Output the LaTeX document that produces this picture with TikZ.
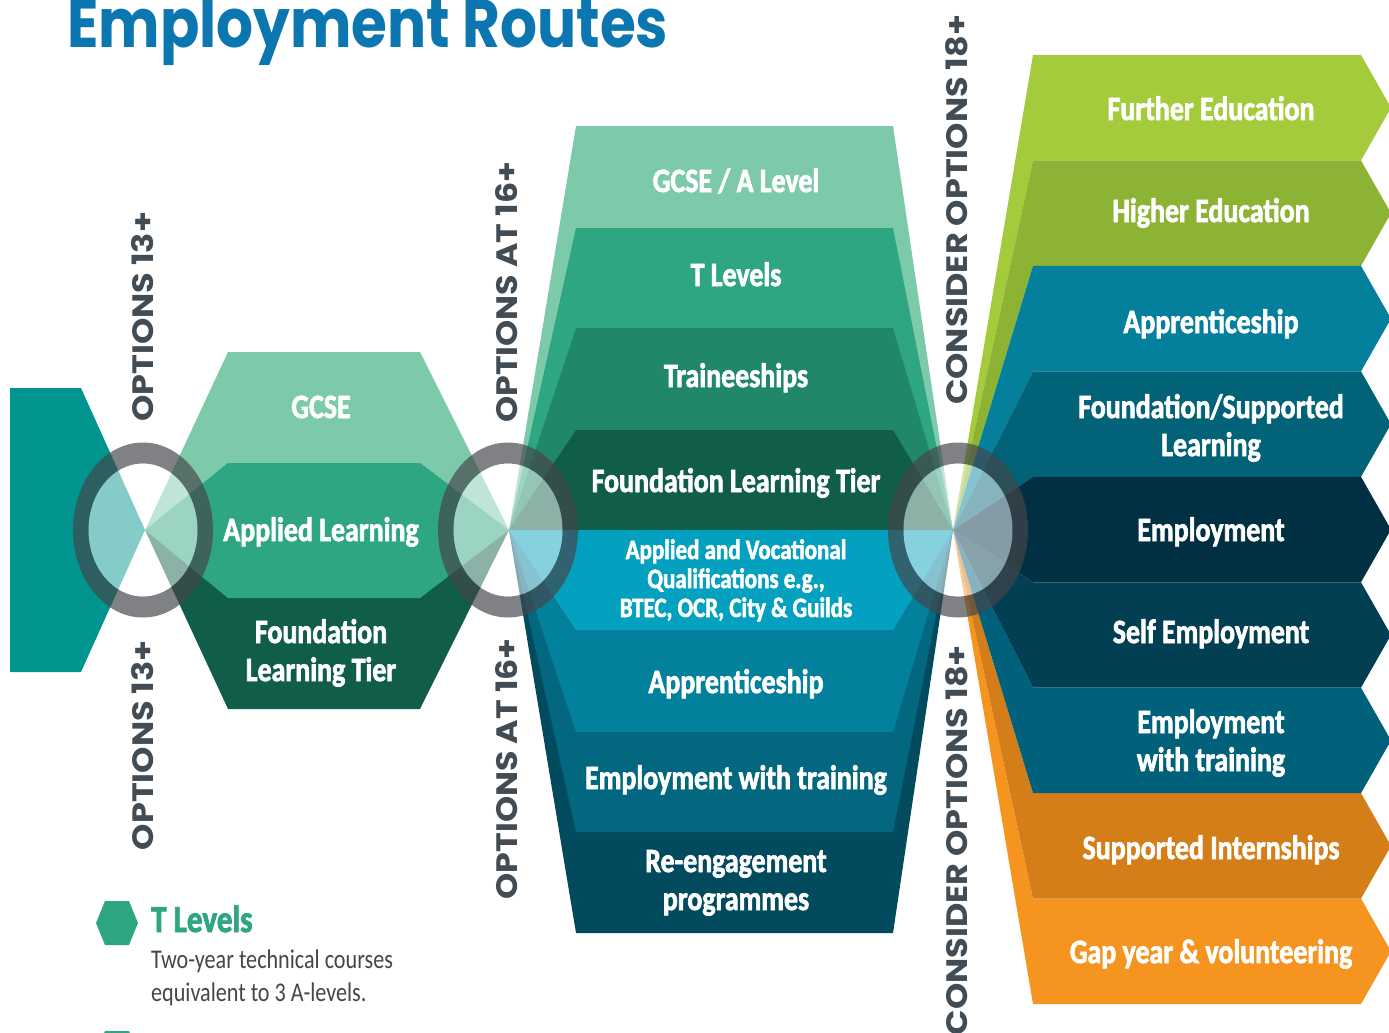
\documentclass[tikz,border=0pt]{standalone}
\usepackage{fontspec}
\usepackage{graphicx}
\newfontfamily\labf[FakeStretch=0.82, BoldFeatures={FakeBold=2}]{Carlito}
\newfontfamily\legf[FakeStretch=0.82]{Carlito}
\newfontfamily\geof{Poppins}
\definecolor{cTitle}{HTML}{0B76B0}
\definecolor{cVert}{HTML}{414C55}
\definecolor{cTeal}{HTML}{00968F}
\definecolor{cLG}{HTML}{7DCAAB}
\definecolor{cG}{HTML}{2EA682}
\definecolor{cMG}{HTML}{21876A}
\definecolor{cDG}{HTML}{105E49}
\definecolor{cAV}{HTML}{04A0BF}
\definecolor{cAP}{HTML}{03809C}
\definecolor{cEW}{HTML}{02677F}
\definecolor{cRE}{HTML}{024A5E}
\definecolor{cFE}{HTML}{A3CB3B}
\definecolor{cHE}{HTML}{8DB334}
\definecolor{cAPr}{HTML}{04809C}
\definecolor{cFS}{HTML}{016278}
\definecolor{cEmp}{HTML}{023043}
\definecolor{cSE}{HTML}{033F53}
\definecolor{cEWr}{HTML}{02617A}
\definecolor{cSI}{HTML}{D47E19}
\definecolor{cGap}{HTML}{F69420}
\definecolor{cRing}{HTML}{45464A}
\definecolor{cLegend}{HTML}{464646}
\newcommand{\mylines}[1]{\parbox[t]{420pt}{\centering #1}}
\tikzset{
  lab/.style={text=white, inner sep=0pt, anchor=base, font=\labf\bfseries\fontsize{34}{38}\selectfont},
  smalllab/.style={text=white, inner sep=0pt, anchor=base, font=\labf\bfseries\fontsize{28}{29}\selectfont},
  vert/.style={text=cVert, inner sep=0pt, rotate=90, font=\geof\bfseries\fontsize{30}{30}\selectfont},
  ringband/.style={fill=cRing, fill opacity=0.68, even odd rule},
  ringin/.style={fill=white, fill opacity=0.52}
}
\begin{document}
\begin{tikzpicture}[x=1pt,y=-1pt]
\path[use as bounding box, fill=white] (0,0) rectangle (1389,1033);
\begin{scope}
\clip (0,0) rectangle (1389,1033);
% fan centres
\coordinate (C1) at (145,530);
\coordinate (C2) at (509,530);
\coordinate (C3) at (953,530);
% ring centres
\coordinate (R1) at (143,530);
\coordinate (R2) at (508,530);
\coordinate (R3) at (958,530);

% left teal block
\fill[cTeal] (10,388) -- (81,388) -- (C1) -- (81,672) -- (10,672) -- cycle;

% block 13+
\fill[cLG] (C1) -- (228,352) -- (420,352) -- (C2) -- cycle;
\fill[cDG] (C1) -- (228,709) -- (420,709) -- (C2) -- cycle;
\fill[cG] (C1) -- (228,463) -- (420,463) -- (C2) -- (420,598) -- (228,598) -- cycle;

% block 16+
\foreach \yy/\cc in {126/cLG, 228/cG, 328/cMG, 430/cDG, 933/cRE, 832/cEW, 732/cAP, 630/cAV}
  \fill[\cc] (C2) -- (576,\yy) -- (893,\yy) -- (C3) -- cycle;

% block 18+
\foreach \i/\cc in {0/cFE, 1/cHE, 2/cAPr, 3/cFS, 8/cGap, 7/cSI, 6/cEWr, 5/cSE, 4/cEmp} {
  \pgfmathsetmacro\ta{55+\i*105.45}
  \pgfmathsetmacro\tb{\ta+105.45}
  \pgfmathsetmacro\tm{\ta+52.725}
  \fill[\cc] (C3) -- (1033,\ta) -- (1361,\ta) -- (1391,\tm) -- (1361,\tb) -- (1033,\tb) -- cycle;
}

% rings
\foreach \r in {R1,R2,R3} {
  \path[ringband] (\r) ellipse [x radius=70pt, y radius=87.5pt] (\r) ellipse [x radius=54.5pt, y radius=66.5pt];
  \path[ringin] (\r) ellipse [x radius=54.5pt, y radius=66.5pt];
}

% legend hexagons
\fill[cG] (96,923) -- (105,901) -- (129,901) -- (138,923) -- (129,945) -- (105,945) -- cycle;
\fill[cG] (96,1053) -- (105,1031) -- (129,1031) -- (138,1053) -- (129,1075) -- (105,1075) -- cycle;
\end{scope}

% title
\node[anchor=base west, inner sep=0pt, text=cTitle, font=\geof\bfseries\fontsize{68}{68}\selectfont] (title) at (67,48) {\resizebox{601pt}{\height}{Employment Routes}};

% vertical labels
\node[vert, anchor=base west] (v13a) at (153,422) {\resizebox{210pt}{22pt}{OPTIONS 13+}};
\node[vert, anchor=base east] (v13b) at (153,640) {\resizebox{210pt}{22pt}{OPTIONS 13+}};
\node[vert, anchor=base west] (v16a) at (517,423) {\resizebox{261pt}{22pt}{OPTIONS AT 16+}};
\node[vert, anchor=base east] (v16b) at (517,638) {\resizebox{261pt}{22pt}{OPTIONS AT 16+}};
\node[vert, anchor=base west] (v18a) at (967,405) {\resizebox{390pt}{22pt}{CONSIDER OPTIONS 18+}};
\node[vert, anchor=base east] (v18b) at (967,645) {\resizebox{390pt}{22pt}{CONSIDER OPTIONS 18+}};

% block 13+ labels
\node[lab] (l1a) at (321,418) {\mylines{GCSE}};
\node[lab] (l1b) at (321,541) {\mylines{Applied Learning}};
\node[lab] (l1c) at (321,643) {\mylines{Foundation\\Learning Tier}};

% block 16+ labels
\node[lab] (l2a) at (736,192) {\mylines{GCSE / A Level}};
\node[lab] (l2b) at (736,286) {\mylines{T Levels}};
\node[lab] (l2c) at (736,387) {\mylines{Traineeships}};
\node[lab] (l2d) at (736,492) {\mylines{Foundation Learning Tier}};
\node[smalllab] (l2e) at (736,559) {\mylines{Applied and Vocational\\Qualifications e.g.,\\BTEC, OCR, City \& Guilds}};
\node[lab] (l2f) at (736,693) {\mylines{Apprenticeship}};
\node[lab] (l2g) at (736,789) {\mylines{Employment with training}};
\node[lab] (l2h) at (736,872) {\mylines{Re-engagement\\programmes}};

% block 18+ labels
\node[lab] (l3a) at (1211,120) {\mylines{Further Education}};
\node[lab] (l3b) at (1211,222) {\mylines{Higher Education}};
\node[lab] (l3c) at (1211,333) {\mylines{Apprenticeship}};
\node[lab] (l3d) at (1211,418) {\mylines{Foundation/Supported\\Learning}};
\node[lab] (l3e) at (1211,541) {\mylines{Employment}};
\node[lab] (l3f) at (1211,643) {\mylines{Self Employment}};
\node[lab] (l3g) at (1211,733) {\mylines{Employment\\with training}};
\node[lab] (l3h) at (1211,859) {\mylines{Supported Internships}};
\node[lab] (l3i) at (1211,963) {\mylines{Gap year \& volunteering}};

% legend
\node[anchor=base west, inner sep=0pt, text=cG, font=\labf\bfseries\fontsize{38}{38}\selectfont] (legT) at (151,932) {T Levels};
\node[anchor=base west, inner sep=0pt, text=cLegend, font=\legf\fontsize{27}{33}\selectfont] (legD) at (151,968) {\parbox[t]{300pt}{\raggedright Two-year technical courses\\equivalent to 3 A-levels.}};
\end{tikzpicture}
\end{document}
